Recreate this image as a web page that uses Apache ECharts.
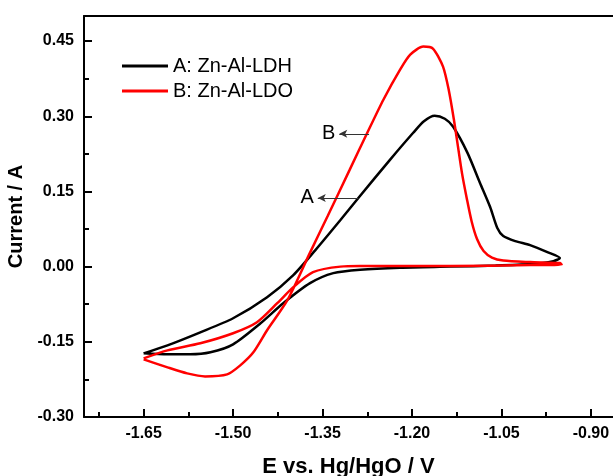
<!DOCTYPE html>
<html>
<head>
<meta charset="utf-8">
<script src="https://cdn.jsdelivr.net/npm/echarts@6/dist/echarts.min.js"></script>
<style>html,body{margin:0;padding:0;background:#fff}#c{width:613px;height:476px}</style>
</head>
<body>
<div id="c"></div>
<script>
// ---- data ----
const seriesNames = ['A: Zn-Al-LDH', 'B: Zn-Al-LDO'];
const xMajorTicks = [-1.65, -1.50, -1.35, -1.20, -1.05, -0.90];
const xMinorTicks = [-1.725, -1.575, -1.425, -1.275, -1.125, -0.975];
const yMajorTicks = [-0.30, -0.15, 0.00, 0.15, 0.30, 0.45];
const yMinorTicks = [-0.225, -0.075, 0.075, 0.225, 0.375];

const eA = [-1.650,-1.610,-1.555,-1.500,-1.443,-1.399,-1.362,-1.320,-1.290,-1.237,-1.198,-1.180,-1.162,-1.145,-1.131,-1.107,-1.086,-1.069,-1.057,-1.047,-1.027,-1.002,-0.973,-0.952,
            -0.963,-1.002,-1.060,-1.136,-1.220,-1.287,-1.332,-1.371,-1.416,-1.454,-1.500,-1.538,-1.572,-1.610,-1.650];
const iA = [-0.173,-0.157,-0.131,-0.103,-0.061,-0.017,0.033,0.093,0.137,0.213,0.267,0.290,0.301,0.295,0.279,0.227,0.167,0.119,0.077,0.061,0.051,0.043,0.029,0.017,
            0.011,0.005,0.002,0.000,-0.002,-0.006,-0.013,-0.033,-0.073,-0.113,-0.155,-0.171,-0.175,-0.175,-0.173];

const eB = [-1.650,-1.610,-1.577,-1.547,-1.510,-1.488,-1.466,-1.443,-1.409,-1.371,-1.341,-1.305,-1.275,-1.248,-1.220,-1.203,-1.181,-1.165,-1.148,-1.138,-1.130,-1.123,-1.116,-1.108,-1.100,-1.091,-1.080,-1.066,-1.047,-1.002,-0.952,
            -0.949,-1.002,-1.136,-1.220,-1.287,-1.320,-1.366,-1.399,-1.426,-1.460,-1.500,-1.555,-1.610,-1.650];
const iB = [-0.185,-0.201,-0.213,-0.219,-0.215,-0.197,-0.171,-0.127,-0.067,0.028,0.102,0.192,0.267,0.333,0.393,0.423,0.439,0.435,0.399,0.350,0.295,0.240,0.185,0.135,0.090,0.055,0.031,0.018,0.012,0.009,0.007,
            0.004,0.003,0.001,0.001,0.001,0.000,-0.011,-0.041,-0.073,-0.111,-0.133,-0.153,-0.167,-0.183];

// annotation arrows: [label, E_start(tail), E_end(head), I]
const arrowB = ['B', -1.272, -1.322, 0.265];
const arrowA = ['A', -1.290, -1.358, 0.137];

const xMin = -1.75, xMax = -0.863, yMin = -0.30, yMax = 0.50;
// ---- chart ----
const FONT = "'Liberation Sans', Arial, sans-serif";
const zip = (a, b) => a.map((v, k) => [v, b[k]]);
const chart = echarts.init(document.getElementById('c'), null, {renderer: 'canvas'});

function arrowMark(arr) {
  return {
    silent: true, symbol: ['none', 'arrow'], symbolSize: [6, 8], animation: false,
    lineStyle: {color: '#333', width: 1, type: 'solid'},
    label: {show: true, position: 'end', formatter: arr[0], fontFamily: FONT, fontSize: 20, color: '#000', distance: 4},
    data: [[{coord: [arr[1], arr[3]]}, {coord: [arr[2], arr[3]]}]]
  };
}

const axisLineStyle = {color: '#000', width: 2};
chart.setOption({
  animation: false,
  backgroundColor: '#fff',
  grid: {left: 84, top: 16, right: 0, bottom: 59, containLabel: false, outerBoundsMode: 'none'},
  legend: {
    orient: 'vertical', left: 122, top: 56, itemWidth: 46, itemHeight: 3, itemGap: 5, padding: 0,
    icon: 'rect', data: seriesNames,
    textStyle: {fontFamily: FONT, fontSize: 20, color: '#000'}
  },
  xAxis: [
    {type: 'value', position: 'bottom', min: xMin, max: xMax,
     name: 'E vs. Hg/HgO / V', nameLocation: 'middle', nameGap: 39,
     nameTextStyle: {fontFamily: FONT, fontSize: 22, fontWeight: 'bold', color: '#000'},
     axisLine: {show: true, onZero: false, lineStyle: axisLineStyle},
     axisTick: {show: true, inside: true, length: 8, lineStyle: axisLineStyle, customValues: xMajorTicks},
     axisLabel: {show: true, margin: 9, fontFamily: FONT, fontSize: 16, fontWeight: 'bold', color: '#000',
                 customValues: xMajorTicks, formatter: v => v.toFixed(2)},
     splitLine: {show: false}},
    {type: 'value', position: 'bottom', min: xMin, max: xMax,
     axisLine: {show: false, onZero: false}, axisLabel: {show: false}, splitLine: {show: false},
     axisTick: {show: true, inside: true, length: 5, lineStyle: axisLineStyle, customValues: xMinorTicks}},
    {type: 'value', position: 'top', min: xMin, max: xMax,
     axisLine: {show: true, onZero: false, lineStyle: axisLineStyle},
     axisTick: {show: false}, axisLabel: {show: false}, splitLine: {show: false}}
  ],
  yAxis: [
    {type: 'value', position: 'left', min: yMin, max: yMax,
     name: 'Current / A', nameLocation: 'middle', nameGap: 45, nameRotate: 90,
     nameTextStyle: {fontFamily: FONT, fontSize: 20, fontWeight: 'bold', color: '#000'},
     axisLine: {show: true, onZero: false, lineStyle: axisLineStyle},
     axisTick: {show: true, inside: true, length: 8, lineStyle: axisLineStyle, customValues: yMajorTicks},
     axisLabel: {show: true, margin: 10, fontFamily: FONT, fontSize: 16, fontWeight: 'bold', color: '#000',
                 customValues: yMajorTicks, formatter: v => v.toFixed(2)},
     splitLine: {show: false}},
    {type: 'value', position: 'left', min: yMin, max: yMax,
     axisLine: {show: false, onZero: false}, axisLabel: {show: false}, splitLine: {show: false},
     axisTick: {show: true, inside: true, length: 5, lineStyle: axisLineStyle, customValues: yMinorTicks}}
  ],
  series: [
    {name: seriesNames[0], type: 'line', xAxisIndex: 0, yAxisIndex: 0, data: zip(eA, iA),
     showSymbol: false, symbol: 'none', smooth: 0.25, color: '#000',
     lineStyle: {color: '#000', width: 2.5}, markLine: arrowMark(arrowA)},
    {name: seriesNames[1], type: 'line', xAxisIndex: 0, yAxisIndex: 0, data: zip(eB, iB),
     showSymbol: false, symbol: 'none', smooth: 0.25, color: '#ff0000',
     lineStyle: {color: '#ff0000', width: 2.5}, markLine: arrowMark(arrowB)}
  ]
});
</script>
</body>
</html>
